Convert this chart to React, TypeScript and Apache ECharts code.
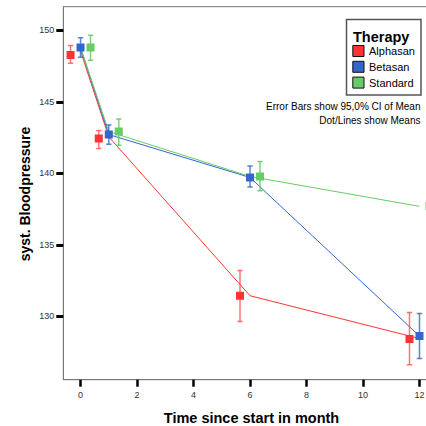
import React, { useEffect, useRef } from "react";
import * as echarts from "echarts";

const FONT = "'Liberation Sans', Arial, Helvetica, sans-serif";

const groups = ["Alphasan", "Betasan", "Standard"];
const colors = ["#ff3333", "#3366cc", "#66cc66"];
const errColors = ["rgba(255,60,60,0.7)", "rgba(51,102,204,0.8)", "rgba(90,200,90,0.8)"];
const times = [0, 1, 6, 12];

// means at markers
const alphaMean = [148.28, 142.44, 131.44, 128.41];
const betaMean = [148.79, 142.71, 139.71, 128.62];
const stdMean = [148.79, 142.92, 139.78, 137.69];
// 95% CI lower/upper
const alphaLo = [147.7, 141.74, 129.64, 126.62];
const alphaHi = [148.93, 143.0, 133.2, 130.27];
const betaLo = [148.12, 142.04, 139.04, 127.06];
const betaHi = [149.48, 143.37, 140.51, 130.2];
const stdLo = [147.9, 141.97, 138.79, 136.8];
const stdHi = [149.65, 143.79, 140.83, 138.6];
// connecting lines (means at true time)
const alphaLine = [148.55, 142.55, 131.44, 128.45];
const betaLine = [148.79, 142.71, 139.71, 128.62];
const stdLine = [148.8, 142.92, 139.78, 137.69];

const xTicks = [0, 2, 4, 6, 8, 10, 12];
const yTicks = [130, 135, 140, 145, 150];

const means = [alphaMean, betaMean, stdMean];
const los = [alphaLo, betaLo, stdLo];
const his = [alphaHi, betaHi, stdHi];
const lines = [alphaLine, betaLine, stdLine];
const dodge = [-10, 0, 10];

export default function App() {
  const ref = useRef<HTMLDivElement>(null);
  useEffect(() => {
    if (!ref.current) return;
    const chart = echarts.init(ref.current, undefined, { renderer: "svg" });
    const series: any[] = [];
    groups.forEach((g, gi) => {
      series.push({
        name: g,
        type: "line",
        data: times.map((t, i) => [t, lines[gi][i]]),
        showSymbol: false,
        symbol: "none",
        lineStyle: { color: colors[gi], width: 1 },
        z: 2,
        silent: true,
      });
    });
    groups.forEach((g, gi) => {
      series.push({
        name: g + " CI",
        type: "custom",
        clip: true,
        z: 3,
        data: times.map((t, i) => [t, means[gi][i], los[gi][i], his[gi][i]]),
        encode: { x: 0, y: 1 },
        renderItem: (params: any, api: any) => {
          const t = api.value(0);
          const m = api.value(1);
          const lo = api.value(2);
          const hi = api.value(3);
          const p = api.coord([t, m]);
          const pl = api.coord([t, lo]);
          const ph = api.coord([t, hi]);
          const x = p[0] + dodge[gi];
          const cap = 2.7;
          const es = { stroke: errColors[gi], lineWidth: 1.5 };
          return {
            type: "group",
            children: [
              { type: "line", shape: { x1: x, y1: pl[1], x2: x, y2: ph[1] }, style: es },
              { type: "line", shape: { x1: x - cap, y1: pl[1], x2: x + cap, y2: pl[1] }, style: es },
              { type: "line", shape: { x1: x - cap, y1: ph[1], x2: x + cap, y2: ph[1] }, style: es },
              { type: "rect", shape: { x: x - 4, y: p[1] - 4, width: 8, height: 8 }, style: { fill: colors[gi] } },
            ],
          };
        },
      });
    });

    const legendX = 346.5;
    const legendY = 19.5;
    const graphic: any[] = [
      {
        type: "rect",
        shape: { x: legendX, y: legendY, width: 74.5, height: 75.5 },
        style: { fill: "#fff", stroke: "#555", lineWidth: 1.5 },
        z: 10,
      },
      {
        type: "text",
        x: 353,
        y: 36.5,
        style: { text: "Therapy", font: `bold 14.5px ${FONT}`, fill: "#000", textVerticalAlign: "middle" },
        z: 11,
      },
      ...groups.flatMap((g, gi) => [
        {
          type: "rect",
          shape: { x: 352.8, y: 45.5 + gi * 15.8, width: 11.2, height: 11 },
          style: { fill: colors[gi], stroke: "#111", lineWidth: 1 },
          z: 11,
        },
        {
          type: "text",
          x: 369,
          y: 51 + gi * 15.8,
          style: { text: g, font: `11px ${FONT}`, fill: "#000", textVerticalAlign: "middle" },
          z: 11,
        },
      ]),
      {
        type: "text",
        x: 420.5,
        y: 106.7,
        style: {
          text: "Error Bars show 95,0% CI of Mean",
          font: `10px ${FONT}`,
          fill: "#000",
          textAlign: "right",
          textVerticalAlign: "middle",
        },
        z: 11,
      },
      {
        type: "text",
        x: 420.5,
        y: 120.7,
        style: {
          text: "Dot/Lines show Means",
          font: `10px ${FONT}`,
          fill: "#000",
          textAlign: "right",
          textVerticalAlign: "middle",
        },
        z: 11,
      },
      {
        type: "text",
        x: 251.5,
        y: 417.5,
        style: {
          text: "Time since start in month",
          font: `bold 14.5px ${FONT}`,
          fill: "#000",
          textAlign: "center",
          textVerticalAlign: "middle",
        },
      },
      {
        type: "text",
        x: 25,
        y: 194,
        rotation: Math.PI / 2,
        style: {
          text: "syst. Bloodpressure",
          font: `bold 14px ${FONT}`,
          fill: "#000",
          textAlign: "center",
          textVerticalAlign: "middle",
        },
      },
    ];

    chart.setOption({
      animation: false,
      backgroundColor: "#fff",
      grid: {
        left: 63.3,
        top: 6.7,
        width: 380.2,
        height: 373,
        show: true,
        borderColor: "#777",
        borderWidth: 1,
        backgroundColor: "transparent",
      },
      xAxis: {
        type: "value",
        min: -0.61,
        max: 12.85,
        splitLine: { show: false },
        axisLine: { show: true, onZero: false, lineStyle: { color: "#777", width: 1 } },
        axisTick: {
          show: true,
          length: 7,
          customValues: xTicks,
          lineStyle: { color: "#000", width: 2.5 },
        },
        axisLabel: {
          customValues: xTicks,
          fontSize: 9,
          fontFamily: FONT,
          color: "#333",
          margin: 11,
        },
      },
      yAxis: {
        type: "value",
        min: 125.57,
        max: 151.65,
        splitLine: { show: false },
        axisLine: { show: true, onZero: false, lineStyle: { color: "#777", width: 1 } },
        axisTick: {
          show: true,
          length: 7,
          customValues: yTicks,
          lineStyle: { color: "#000", width: 3 },
        },
        axisLabel: {
          customValues: yTicks,
          fontSize: 9,
          fontFamily: FONT,
          color: "#333",
          margin: 9,
        },
      },
      series,
      graphic,
    });
    return () => chart.dispose();
  }, []);
  return (
    <div
      style={{
        position: "absolute",
        left: 0,
        top: 0,
        width: 426,
        height: 426,
        overflow: "hidden",
        background: "#fff",
      }}
    >
      <div ref={ref} style={{ width: 470, height: 426 }} />
    </div>
  );
}
